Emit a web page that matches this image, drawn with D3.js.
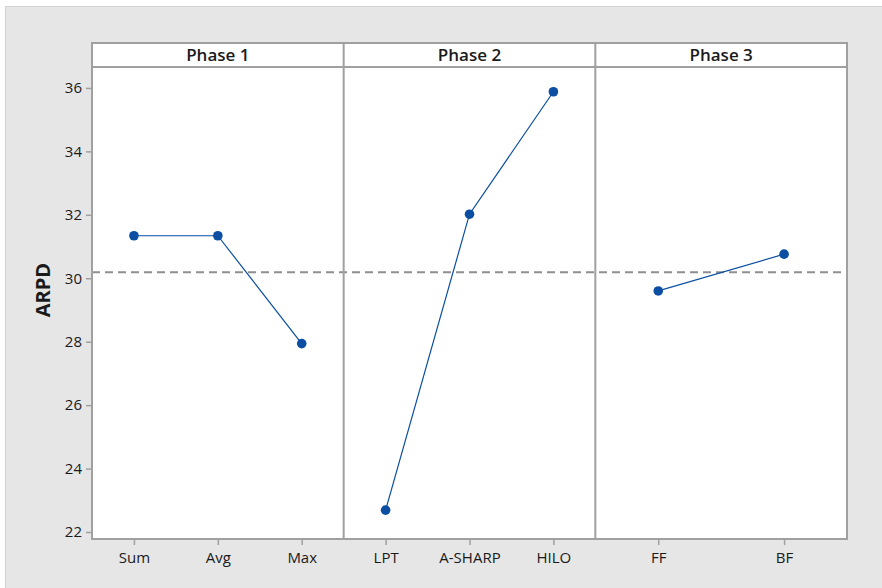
<!DOCTYPE html>
<html>
<head>
<meta charset="utf-8">
<script src="https://cdn.jsdelivr.net/npm/d3@7"></script>
<style>
  html, body { margin: 0; padding: 0; background: #ffffff; }
  svg { display: block; }
  text { font-family: "Open Sans", "Noto Sans", sans-serif; fill: #1a1a1a; }
</style>
</head>
<body>
<svg id="chart" width="882" height="588"></svg>
<script>
// Main effects plot for ARPD, one panel per phase
const phases = ["Phase 1", "Phase 2", "Phase 3"];
const phase1Levels = ["Sum", "Avg", "Max"];
const phase1Values = [31.34, 31.34, 27.94];
const phase2Levels = ["LPT", "A-SHARP", "HILO"];
const phase2Values = [22.69, 32.02, 35.88];
const phase3Levels = ["FF", "BF"];
const phase3Values = [29.60, 30.76];
const grandMean = 30.19;
const yTicks = [22, 24, 26, 28, 30, 32, 34, 36];
const yLabel = "ARPD";

const panels = [
  { title: phases[0], levels: phase1Levels, values: phase1Values },
  { title: phases[1], levels: phase2Levels, values: phase2Values },
  { title: phases[2], levels: phase3Levels, values: phase3Values }
];

const W = 882, H = 588;
const plot = { left: 92, right: 847, top: 43, header: 24, bottom: 539 };
const frameColor = "#a0a0a0";
const markColor = "#0b4ea2";
const tickFont = "15px";

const svg = d3.select("#chart");

// figure background
svg.append("rect")
  .attr("x", 5.5).attr("y", 6.5)
  .attr("width", W).attr("height", H)
  .attr("fill", "#e6e6e6")
  .attr("stroke", "#d2d2d2").attr("stroke-width", 1);

const y = d3.scaleLinear()
  .domain([21.78, 36.66])
  .range([plot.bottom, plot.top + plot.header]);

const panelX = d3.scaleBand()
  .domain(phases)
  .range([plot.left, plot.right])
  .paddingInner(0).paddingOuter(0);

// plot area background
svg.append("rect")
  .attr("x", plot.left).attr("y", plot.top)
  .attr("width", plot.right - plot.left)
  .attr("height", plot.bottom - plot.top)
  .attr("fill", "#ffffff");

// y axis
const yAxis = d3.axisLeft(y).tickValues(yTicks).tickSize(6).tickPadding(4);
const yg = svg.append("g")
  .attr("transform", `translate(${plot.left},0)`)
  .call(yAxis);
yg.select(".domain").remove();
yg.selectAll(".tick line").attr("stroke", frameColor).attr("stroke-width", 1.5);
yg.selectAll(".tick text")
  .style("font-size", tickFont)
  .style("font-family", "'Open Sans', 'Noto Sans', sans-serif")
  .attr("fill", "#1a1a1a");

// grand mean reference line
svg.append("line")
  .attr("x1", plot.left).attr("x2", plot.right)
  .attr("y1", y(grandMean)).attr("y2", y(grandMean))
  .attr("stroke", "#8f8f8f")
  .attr("stroke-width", 1.8)
  .attr("stroke-dasharray", "8,5");

const line = d3.line();

panels.forEach(p => {
  const x0 = panelX(p.title);
  const bw = panelX.bandwidth();
  const x = d3.scalePoint()
    .domain(p.levels)
    .range([x0, x0 + bw])
    .padding(0.5);

  // header strip
  svg.append("text")
    .attr("x", x0 + bw / 2)
    .attr("y", plot.top + plot.header / 2)
    .attr("dy", "0.36em")
    .attr("text-anchor", "middle")
    .style("font-size", "17px")
    .style("font-weight", "600")
    .text(p.title);

  // x axis
  const xAxis = d3.axisBottom(x).tickSize(6).tickPadding(7);
  const xg = svg.append("g")
    .attr("transform", `translate(0,${plot.bottom})`)
    .call(xAxis);
  xg.select(".domain").remove();
  xg.selectAll(".tick line").attr("stroke", frameColor).attr("stroke-width", 1.5);
  xg.selectAll(".tick text")
    .style("font-size", tickFont)
    .style("font-family", "'Open Sans', 'Noto Sans', sans-serif")
    .attr("fill", "#1a1a1a");

  const pts = p.levels.map((l, i) => [x(l), y(p.values[i])]);

  svg.append("path")
    .attr("d", line(pts))
    .attr("fill", "none")
    .attr("stroke", markColor)
    .attr("stroke-width", 1.2);

  svg.append("g").selectAll("circle")
    .data(pts)
    .join("circle")
    .attr("cx", d => d[0])
    .attr("cy", d => d[1])
    .attr("r", 4.8)
    .attr("fill", markColor);
});

// frame: outer border, header separator, panel dividers
const frame = svg.append("g")
  .attr("fill", "none")
  .attr("stroke", frameColor)
  .attr("stroke-width", 2);
frame.append("rect")
  .attr("x", plot.left).attr("y", plot.top)
  .attr("width", plot.right - plot.left)
  .attr("height", plot.bottom - plot.top);
frame.append("line")
  .attr("x1", plot.left).attr("x2", plot.right)
  .attr("y1", plot.top + plot.header).attr("y2", plot.top + plot.header);
phases.slice(1).forEach(ph => {
  frame.append("line")
    .attr("x1", panelX(ph)).attr("x2", panelX(ph))
    .attr("y1", plot.top).attr("y2", plot.bottom);
});

// y axis title
svg.append("text")
  .attr("transform", `translate(50,290) rotate(-90)`)
  .attr("text-anchor", "middle")
  .style("font-size", "20px")
  .style("font-weight", "bold")
  .text(yLabel);
</script>
</body>
</html>
